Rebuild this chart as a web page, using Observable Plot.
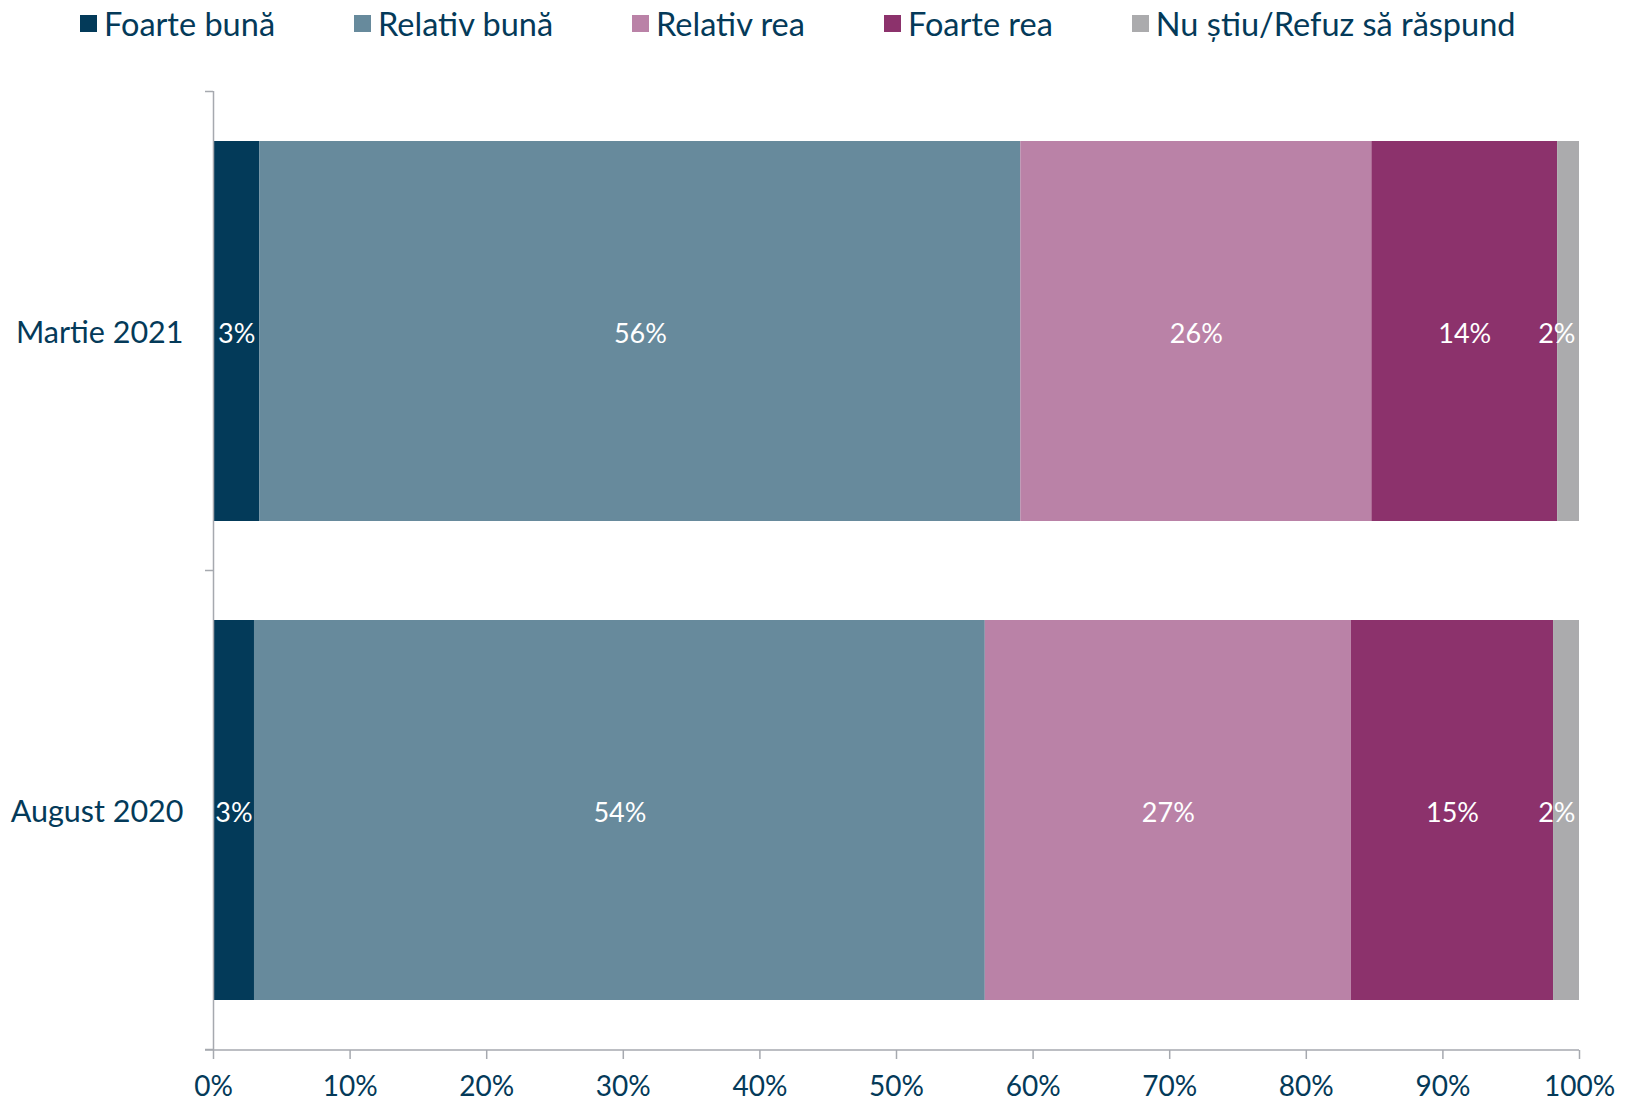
<!DOCTYPE html>
<html>
<head>
<meta charset="utf-8">
<script src="https://cdn.jsdelivr.net/npm/d3@7"></script>
<script src="https://cdn.jsdelivr.net/npm/@observablehq/plot@0.6"></script>
<style>
  html, body { margin: 0; padding: 0; background: #fff; }
  body { width: 1632px; height: 1104px; overflow: hidden; font-family: Lato, "Noto Sans", sans-serif; }
  #legend { height: 46px; display: flex; align-items: center; padding-left: 80px; box-sizing: border-box; }
  .item { display: flex; align-items: center; margin-right: 79px; font-size: 32.5px; color: #043A59; white-space: nowrap; }
  .sw { width: 17px; height: 17px; margin-right: 7px; flex: none; }
  svg { display: block; overflow: visible; }
</style>
</head>
<body>
<div id="legend"></div>
<div id="chart"></div>
<script>
const categories = ["Martie 2021", "August 2020"];
const responses = ["Foarte bună", "Relativ bună", "Relativ rea", "Foarte rea", "Nu știu/Refuz să răspund"];
const colors = ["#033A59", "#678A9C", "#BA82A7", "#8C326C", "#ABABAD"];
const martie2021 = [3.4, 55.7, 25.7, 13.6, 1.6];
const august2020 = [3.0, 53.5, 26.8, 14.8, 1.9];
const xTicks = [0, 10, 20, 30, 40, 50, 60, 70, 80, 90, 100];

const textColor = "#043A59";
const axisColor = "#A6A9AF";

const series = [martie2021, august2020];
const data = [];
categories.forEach((c, i) => {
  responses.forEach((r, j) => {
    data.push({category: c, response: r, value: series[i][j], last: j === responses.length - 1});
  });
});

// legend
const legend = document.getElementById("legend");
responses.forEach((r, j) => {
  const it = document.createElement("div");
  it.className = "item";
  const sw = document.createElement("span");
  sw.className = "sw";
  sw.style.background = colors[j];
  it.appendChild(sw);
  it.appendChild(document.createTextNode(r));
  legend.appendChild(it);
});

const W = 1632, H = 1058;
const plot = Plot.plot({
  width: W,
  height: H,
  marginTop: 45,
  marginBottom: 54,
  marginLeft: 213,
  marginRight: 53,
  style: {fontFamily: "Lato, 'Noto Sans', sans-serif", fontSize: "27px", color: textColor, background: "#fff"},
  x: {domain: [0, 100]},
  y: {domain: categories, paddingInner: 0.206, paddingOuter: 0.103},
  color: {domain: responses, range: colors},
  marks: [
    Plot.barX(data, Plot.stackX({x: "value", y: "category", fill: "response"})),
    Plot.text(data, Plot.stackX({
      x: "value", y: "category", z: "response",
      text: d => Math.round(d.value) + "%",
      fill: "white", fontSize: 27, dy: 3,
      filter: d => !d.last
    })),
    Plot.text(data.filter(d => d.last), {
      x: () => 100, y: "category", text: d => Math.round(d.value) + "%",
      fill: "white", fontSize: 27, textAnchor: "end", dx: -4, dy: 3
    }),
    Plot.ruleX([0], {stroke: axisColor, strokeWidth: 1.5}),
    Plot.axisX({ticks: xTicks, tickFormat: d => d + "%", tickSize: 9, tickPadding: 17, stroke: axisColor, strokeWidth: 1.5, fill: textColor, fontSize: 28, label: null}),
    Plot.axisY({tickSize: 0, tickPadding: 30, fill: textColor, fontSize: 30.5, dy: 2, label: null})
  ]
});
document.getElementById("chart").appendChild(plot);

// bottom axis line and category boundary ticks, positioned from Plot's own scales
const xs = plot.scale("x"), ys = plot.scale("y");
const svg = d3.select(plot);
const x0 = xs.apply(0), x1 = xs.apply(100);
const yBot = ys.range[1];
const step = ys.step, bw = ys.bandwidth;
const bounds = categories.map(c => ys.apply(c) - (step - bw) / 2).concat([ys.apply(categories[categories.length - 1]) + bw + (step - bw) / 2]);
const g = svg.append("g").attr("stroke", axisColor).attr("stroke-width", 1.5);
g.append("line").attr("x1", x0 - 8).attr("x2", x1).attr("y1", yBot).attr("y2", yBot);
bounds.forEach(b => g.append("line").attr("x1", x0 - 8).attr("x2", x0).attr("y1", b).attr("y2", b));
</script>
</body>
</html>
